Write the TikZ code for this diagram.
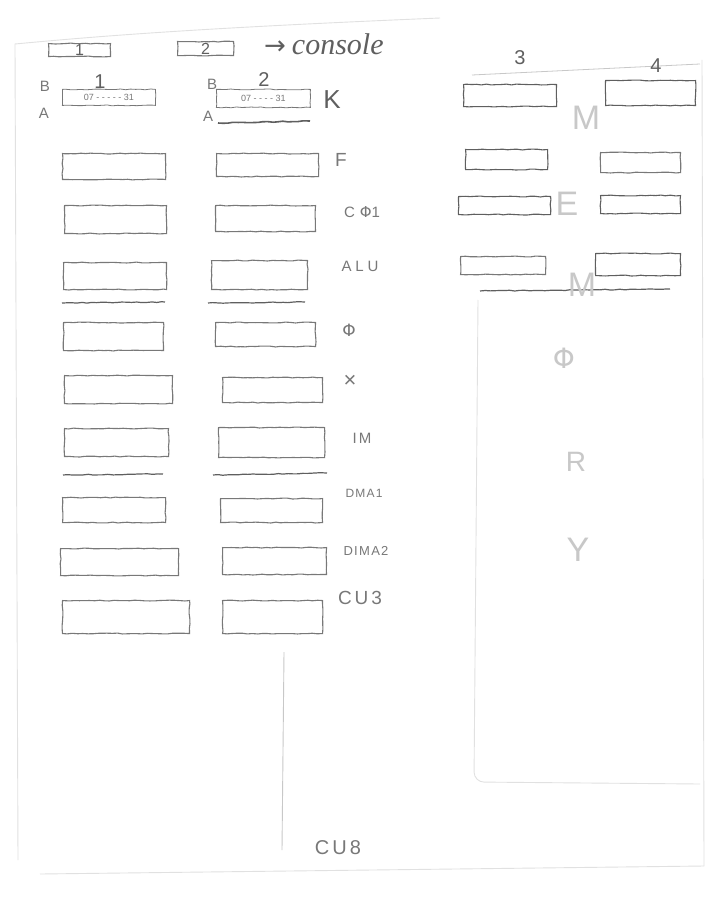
\documentclass[tikz,border=0pt]{standalone}
\usepackage{fontspec}
\setmainfont{Liberation Sans}
\newfontfamily\symfont{DejaVu Sans}
\newfontfamily\handfont{Liberation Serif}
\usetikzlibrary{decorations.pathmorphing}
\definecolor{pencil}{RGB}{120,120,120}
\definecolor{darkpencil}{RGB}{95,95,95}
\definecolor{faint}{RGB}{200,200,200}
\definecolor{veryfaint}{RGB}{225,225,225}
\tikzset{
  sketch/.style={decorate, decoration={random steps, segment length=5pt, amplitude=0.45pt}},
  regbox/.style={draw=pencil, line width=1.1pt, sketch, rectangle, inner sep=0pt, anchor=north west},
  uline/.style={draw=darkpencil, line width=1.2pt, sketch},
  pagedge/.style={draw=veryfaint, line width=0.9pt},
  lbl/.style={text=pencil, font=\fontsize{15}{15}\selectfont, inner sep=0pt},
  biglbl/.style={text=darkpencil, font=\fontsize{26}{26}\selectfont, inner sep=0pt},
  ghost/.style={text=faint, font=\fontsize{34}{34}\selectfont, inner sep=0pt},
  numlbl/.style={text=darkpencil, font=\fontsize{20}{20}\selectfont, inner sep=0pt},
}
\begin{document}
\begin{tikzpicture}[x=1pt,y=-1pt]
\useasboundingbox (0,0) rectangle (710,904);
\fill[white] (0,0) rectangle (710,904);
% page edges
\coordinate (pTL) at (15,44);
\coordinate (pTR) at (440,18);
\coordinate (pBL) at (40,874);
\coordinate (pBR) at (704,866);
\coordinate (pRT) at (702,60);
\draw[pagedge] (pTL) .. controls (100,36) and (200,28) .. (pTR);
\draw[pagedge] (pBL) -- (pBR);
\draw[pagedge] (pRT) -- (pBR);
\draw[pagedge] (pTL) -- (18,860);
% faint right panel
\coordinate (rpA) at (478,300);
\coordinate (rpB) at (474,782);
\coordinate (rpC) at (700,784);
\draw[draw=veryfaint, line width=0.9pt, rounded corners=10pt] (rpA) -- (rpB) -- (rpC);
% vertical faint line & CU8
\coordinate (vA) at (284,652);
\coordinate (vB) at (282,850);
\draw[draw=faint, line width=0.9pt] (vA) -- (vB);
\node[lbl, font=\fontsize{20}{20}\selectfont\addfontfeature{LetterSpace=15}] (cu8) at (338,848) {CU8};

% top row
\node[regbox, minimum width=62pt, minimum height=13pt, text=darkpencil, font=\fontsize{16}{16}\selectfont] (t1) at (48,43) {1};
\node[regbox, minimum width=56pt, minimum height=14pt, text=darkpencil, font=\fontsize{16}{16}\selectfont] (t2) at (177,41) {2};
\node[lbl, anchor=west, text=darkpencil] (cons) at (264,44) {{\symfont\fontsize{26}{26}\selectfont →}\hspace{6pt}{\handfont\itshape\fontsize{30}{30}\selectfont console}};

% register row K
\node[regbox, minimum width=93pt, minimum height=16pt, line width=0.8pt, font=\fontsize{9}{9}\selectfont, text=pencil] (k1) at (62,89) {07 - - - - - 31};
\node[regbox, minimum width=94pt, minimum height=18pt, line width=0.8pt, font=\fontsize{9}{9}\selectfont, text=pencil] (k2) at (216,89) {07 - - - - 31};
\node[lbl] (kB1) at (45,86) {B};
\node[lbl] (kA1) at (44,113) {A};
\node[numlbl] (kn1) at (100,82) {1};
\node[lbl] (kB2) at (212,84) {B};
\node[lbl] (kA2) at (208,116) {A};
\node[numlbl] (kn2) at (264,80) {2};
\coordinate (kuA) at (218,123);
\coordinate (kuB) at (310,121);
\draw[uline, line width=1.6pt] (kuA) -- (kuB);
\node[biglbl] (K) at (332,100) {K};

% left columns
\node[regbox, minimum width=103pt, minimum height=26pt] (f1) at (62,153) {};
\node[regbox, minimum width=102pt, minimum height=23pt] (f2) at (216,153) {};
\node[lbl, font=\fontsize{19}{19}\selectfont] (F) at (341,160) {F};

\node[regbox, minimum width=102pt, minimum height=28pt] (c1) at (64,205) {};
\node[regbox, minimum width=100pt, minimum height=26pt] (c2) at (215,205) {};
\node[lbl] (CF) at (362,212) {C\hspace{5pt}{\symfont Φ}1};

\node[regbox, minimum width=103pt, minimum height=27pt] (a1) at (63,262) {};
\node[regbox, minimum width=96pt, minimum height=29pt] (a2) at (211,260) {};
\node[lbl, font=\fontsize{15}{15}\selectfont\addfontfeature{LetterSpace=25}] (ALU) at (360,266) {ALU};
\coordinate (u1a) at (62,303); \coordinate (u1b) at (165,302);
\coordinate (u2a) at (208,303); \coordinate (u2b) at (305,302);
\draw[uline] (u1a) -- (u1b);
\draw[uline] (u2a) -- (u2b);

\node[regbox, minimum width=100pt, minimum height=28pt] (p1) at (63,322) {};
\node[regbox, minimum width=100pt, minimum height=24pt] (p2) at (215,322) {};
\node[lbl, font=\fontsize{17}{17}\selectfont] (PHI) at (349,330) {{\symfont Φ}};

\node[regbox, minimum width=108pt, minimum height=28pt] (x1) at (64,375) {};
\node[regbox, minimum width=100pt, minimum height=25pt] (x2) at (222,377) {};
\node[lbl, font=\fontsize{22}{22}\selectfont] (X) at (350,381) {×};

\node[regbox, minimum width=104pt, minimum height=28pt] (i1) at (64,428) {};
\node[regbox, minimum width=106pt, minimum height=30pt] (i2) at (218,427) {};
\node[lbl, font=\fontsize{15}{15}\selectfont\addfontfeature{LetterSpace=15}] (IM) at (362,438) {IM};
\coordinate (u3a) at (63,475); \coordinate (u3b) at (163,474);
\coordinate (u4a) at (213,475); \coordinate (u4b) at (327,473);
\draw[uline] (u3a) -- (u3b);
\draw[uline] (u4a) -- (u4b);

\node[regbox, minimum width=103pt, minimum height=25pt] (d1) at (62,497) {};
\node[regbox, minimum width=102pt, minimum height=24pt] (d2) at (220,498) {};
\node[lbl, font=\fontsize{12}{12}\selectfont\addfontfeature{LetterSpace=10}] (DMA1) at (364,493) {DMA1};

\node[regbox, minimum width=118pt, minimum height=27pt] (e1) at (60,548) {};
\node[regbox, minimum width=104pt, minimum height=27pt] (e2) at (222,547) {};
\node[lbl, font=\fontsize{13}{13}\selectfont\addfontfeature{LetterSpace=10}] (DMA2) at (366,551) {DIMA2};

\node[regbox, minimum width=127pt, minimum height=33pt] (g1) at (62,600) {};
\node[regbox, minimum width=100pt, minimum height=33pt] (g2) at (222,600) {};
\node[lbl, font=\fontsize{19}{19}\selectfont\addfontfeature{LetterSpace=15}] (CU3) at (360,598) {CU3};

% right block
\coordinate (rtA) at (472,75);
\coordinate (rtB) at (700,64);
\draw[draw=faint, line width=0.8pt] (rtA) -- (rtB);
\node[numlbl] (n3) at (520,58) {3};
\node[numlbl] (n4) at (656,66) {4};
\node[regbox, minimum width=93pt, minimum height=22pt, draw=darkpencil] (r31) at (463,84) {};
\node[regbox, minimum width=90pt, minimum height=25pt, draw=darkpencil] (r41) at (605,80) {};
\node[regbox, minimum width=82pt, minimum height=20pt, draw=darkpencil] (r32) at (465,149) {};
\node[regbox, minimum width=80pt, minimum height=20pt] (r42) at (600,152) {};
\node[regbox, minimum width=92pt, minimum height=18pt, draw=darkpencil] (r33) at (458,196) {};
\node[regbox, minimum width=80pt, minimum height=18pt, draw=darkpencil] (r43) at (600,195) {};
\node[regbox, minimum width=85pt, minimum height=18pt] (r34) at (460,256) {};
\node[regbox, minimum width=85pt, minimum height=22pt, draw=darkpencil] (r44) at (595,253) {};
\coordinate (ruA) at (480,291);
\coordinate (ruB) at (670,289);
\draw[uline] (ruA) -- (ruB);

% ghost letters
\node[ghost] (gM1) at (586,118) {M};
\node[ghost] (gE) at (567,204) {E};
\node[ghost] (gM2) at (582,285) {M};
\node[ghost, font=\fontsize{28}{28}\selectfont] (gPhi) at (564,358) {{\symfont Φ}};
\node[ghost, font=\fontsize{28}{28}\selectfont] (gR) at (576,462) {R};
\node[ghost] (gY) at (578,550) {Y};
\end{tikzpicture}
\end{document}
